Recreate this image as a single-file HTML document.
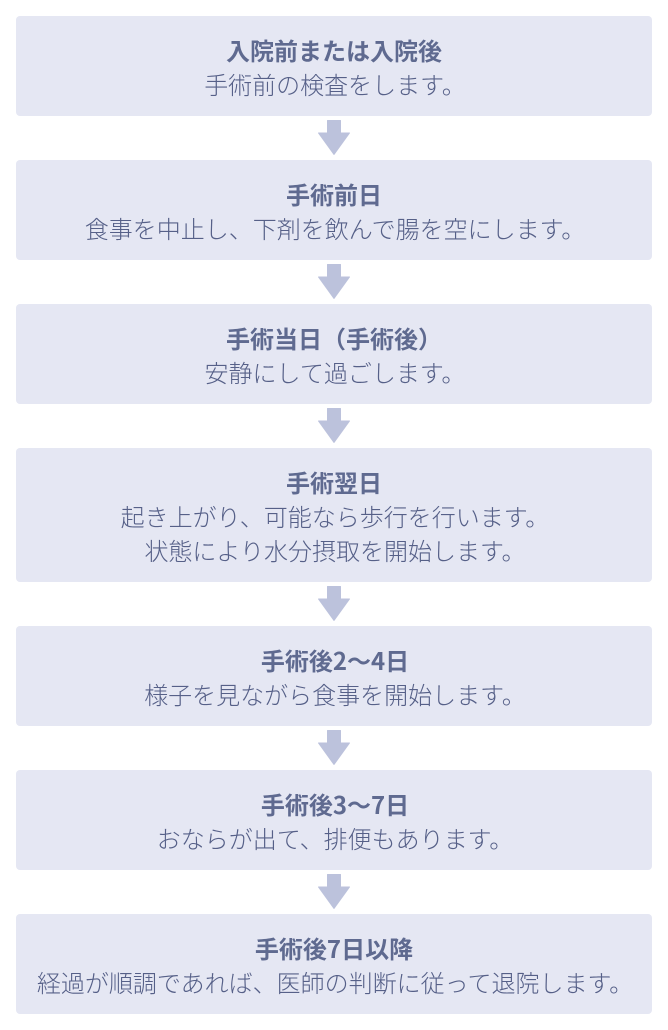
<!DOCTYPE html>
<html lang="ja">
<head>
<meta charset="utf-8">
<style>
html,body{margin:0;padding:0;background:#fff;}
body{width:668px;height:1030px;position:relative;overflow:hidden;font-family:"Noto Sans CJK JP",sans-serif;color:#5f6a90;}
.b{position:absolute;left:16px;width:636px;background:#e5e7f3;border-radius:4px;text-align:center;font-size:24px;line-height:34px;box-sizing:border-box;padding-top:17px;}
.b b{display:block;font-weight:700;position:relative;}
.b span{display:block;font-weight:300;position:relative;left:1px;color:#566088;}
svg{position:absolute;left:316px;width:36px;height:38px;}
</style>
</head>
<body>
<div class="b" style="top:16px;height:100px"><b>入院前または入院後</b><span>手術前の検査をします。</span></div>
<svg style="top:119px" viewBox="0 0 36 38"><path d="M11.5 1.500h13v12.500h9L18 35.500 2.500 14h9z" fill="#bcc2dc" stroke="#bcc2dc" stroke-linejoin="round"/></svg>
<div class="b" style="top:160px;height:100px"><b>手術前日</b><span>食事を中止し、下剤を飲んで腸を空にします。</span></div>
<svg style="top:263px" viewBox="0 0 36 38"><path d="M11.5 1.500h13v12.500h9L18 35.500 2.500 14h9z" fill="#bcc2dc" stroke="#bcc2dc" stroke-linejoin="round"/></svg>
<div class="b" style="top:304px;height:100px"><b>手術当日（手術後）</b><span>安静にして過ごします。</span></div>
<svg style="top:407px" viewBox="0 0 36 38"><path d="M11.5 1.500h13v12.500h9L18 35.500 2.500 14h9z" fill="#bcc2dc" stroke="#bcc2dc" stroke-linejoin="round"/></svg>
<div class="b" style="top:448px;height:134px"><b>手術翌日</b><span>起き上がり、可能なら歩行を行います。</span><span>状態により水分摂取を開始します。</span></div>
<svg style="top:585px" viewBox="0 0 36 38"><path d="M11.5 1.500h13v12.500h9L18 35.500 2.500 14h9z" fill="#bcc2dc" stroke="#bcc2dc" stroke-linejoin="round"/></svg>
<div class="b" style="top:626px;height:100px"><b style="left:1px">手術後2～4日</b><span>様子を見ながら食事を開始します。</span></div>
<svg style="top:729px" viewBox="0 0 36 38"><path d="M11.5 1.500h13v12.500h9L18 35.500 2.500 14h9z" fill="#bcc2dc" stroke="#bcc2dc" stroke-linejoin="round"/></svg>
<div class="b" style="top:770px;height:100px"><b style="left:1px">手術後3～7日</b><span>おならが出て、排便もあります。</span></div>
<svg style="top:873px" viewBox="0 0 36 38"><path d="M11.5 1.500h13v12.500h9L18 35.500 2.500 14h9z" fill="#bcc2dc" stroke="#bcc2dc" stroke-linejoin="round"/></svg>
<div class="b" style="top:914px;height:100px"><b>手術後7日以降</b><span>経過が順調であれば、医師の判断に従って退院します。</span></div>
</body>
</html>
